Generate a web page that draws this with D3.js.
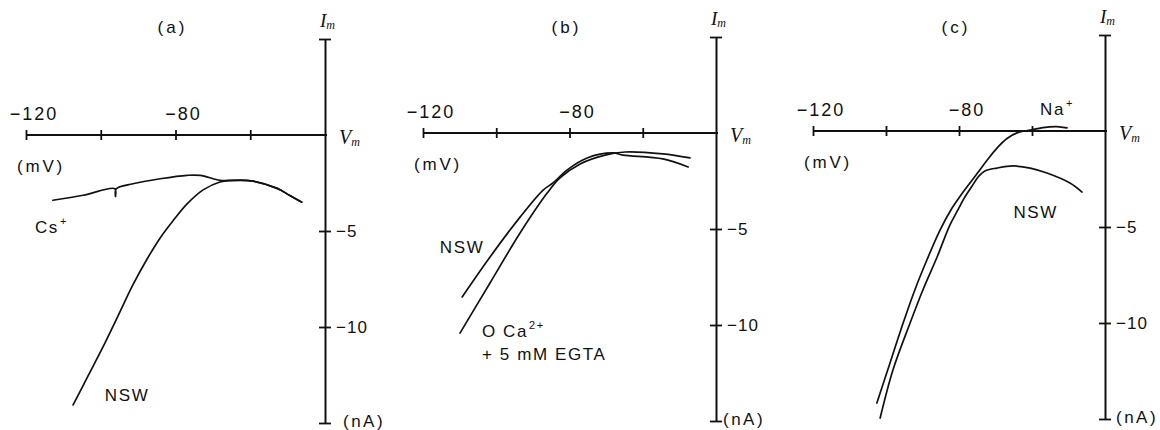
<!DOCTYPE html>
<html>
<head>
<meta charset="utf-8">
<script src="https://cdn.jsdelivr.net/npm/d3@7"></script>
<style>
  html, body { margin: 0; padding: 0; background: #fff; }
  svg text { font-family: "Liberation Sans", Arial, sans-serif; fill: #111; }
  .ital { font-family: "Liberation Serif", "DejaVu Serif", serif; font-style: italic; }
</style>
</head>
<body>
<svg id="fig" width="1160" height="430"></svg>
<script>
// Membrane current (Im, nA) against membrane potential (Vm, mV), three solution changes.

// Axis ticks and labels
const voltTicks = [-120, -100, -80, -60];
const voltLabels = [-120, -80];
const currTicks = [5, -5, -10, -15];
const currLabels = [-5, -10];
const voltDomain = [-120, -40];
const currDomain = [5, -15];

// (a) normal sea water vs Cs+ substitution  [Vm, Im]
const nswA = [[-107.4, -14.06], [-103.4, -12.55], [-99.4, -11.04], [-95.4, -9.43], [-91.4, -7.81],
  [-87.6, -6.46], [-84.1, -5.36], [-80.7, -4.48], [-76.9, -3.59], [-72.6, -2.86], [-68.1, -2.45],
  [-64.1, -2.36], [-59.3, -2.40], [-52.8, -2.78], [-49.4, -3.15], [-46.2, -3.50]];
const csA = [[-112.8, -3.40], [-104.7, -3.14], [-96.2, -2.80], [-96.05, -3.20], [-95.9, -2.81],
  [-91.4, -2.54], [-84.1, -2.28], [-76.9, -2.10], [-73.4, -2.10], [-68.1, -2.36], [-64.1, -2.36],
  [-59.3, -2.40], [-52.8, -2.78], [-49.4, -3.15], [-46.2, -3.50]];

// (b) normal sea water vs 0 Ca2+ + 5 mM EGTA
const nswB = [[-109.3, -8.54], [-101.7, -6.46], [-93.5, -4.38], [-87.2, -2.97], [-84.5, -2.60],
  [-80.7, -1.93], [-75.2, -1.30], [-68.1, -1.04], [-65.4, -1.15], [-54.5, -1.35], [-47.6, -1.77]];
const caB = [[-109.9, -10.42], [-101.7, -7.81], [-93.5, -5.21], [-86.1, -3.13], [-82.6, -2.34],
  [-77.1, -1.61], [-70.3, -1.15], [-64.8, -0.99], [-54.5, -1.09], [-47.1, -1.30]];

// (c) normal sea water vs Na+ solution
const nswC = [[-101.6, -14.95], [-98.1, -12.45], [-93.4, -10.0], [-89.9, -8.28], [-86.0, -6.56],
  [-82.5, -4.90], [-80.3, -4.11], [-78.4, -3.44], [-76.4, -2.86], [-74.5, -2.34], [-72.9, -2.08],
  [-69.6, -1.93], [-65.2, -1.82], [-60.5, -1.93], [-55.9, -2.19], [-49.6, -2.71], [-46.3, -3.18]];
const naC = [[-102.5, -14.17], [-98.9, -12.08], [-95.3, -10.0], [-92.1, -8.28], [-88.8, -6.72],
  [-85.2, -5.16], [-81.9, -4.01], [-79.45, -3.33], [-77.0, -2.71], [-74.5, -2.08], [-72.05, -1.46],
  [-69.6, -0.89], [-66.85, -0.39], [-64.1, -0.10], [-60.5, 0.05], [-57.0, 0.18], [-53.2, 0.23],
  [-50.4, 0.16]];

// Panel frames (pixels) and curve annotations (placed in data units)
const panels = [
  { tag: "(a)", left: 26, right: 325, top: 39, bottom: 423, nA: 18,
    curves: [nswA, csA],
    notes: [{ v: -117.6, i: -5.1, lines: [["Cs", "+"]] },
            { v: -98.9, i: -13.85, lines: [["NSW"]] }] },
  { tag: "(b)", left: 423, right: 716, top: 37, bottom: 421, nA: 7,
    curves: [nswB, caB],
    notes: [{ v: -115.4, i: -6.25, lines: [["NSW"]] },
            { v: -103.9, i: -10.63, lines: [["O Ca", "2+"], ["+ 5 mM EGTA"]] }] },
  { tag: "(c)", left: 813, right: 1105, top: 35, bottom: 419, nA: 11,
    curves: [nswC, naC],
    notes: [{ v: -57.8, i: 0.84, lines: [["Na", "+"]] },
            { v: -65.1, i: -4.53, lines: [["NSW"]] }] }
];

const svg = d3.select("#fig");
const ink = "#111";

panels.forEach(p => {
  const x = d3.scaleLinear().domain(voltDomain).range([p.left, p.right]);
  const y = d3.scaleLinear().domain(currDomain).range([p.top, p.bottom]);
  const g = svg.append("g");
  const y0 = y(0), xr = x(-40);

  // Voltage axis along Im = 0
  const xa = g.append("g").attr("transform", `translate(0,${y0})`)
    .call(d3.axisBottom(x).tickValues(voltTicks).tickFormat("").tickSizeOuter(0));
  xa.select(".domain").attr("stroke", ink).attr("stroke-width", 2).attr("d", `M${x(-120)},0H${xr + 2}`);
  xa.selectAll(".tick line").attr("stroke", ink).attr("stroke-width", 1.8).attr("y1", -5).attr("y2", 5);

  // Current axis at Vm = -40
  const ya = g.append("g").attr("transform", `translate(${xr},0)`)
    .call(d3.axisRight(y).tickValues(currTicks).tickFormat("").tickSizeOuter(0));
  ya.select(".domain").attr("stroke", ink).attr("stroke-width", 2);
  ya.selectAll(".tick line").attr("stroke", ink).attr("stroke-width", 1.8).attr("x1", -6).attr("x2", 6);

  // Tick labels
  g.selectAll(".vl").data(voltLabels).enter().append("text")
    .attr("x", d => x(d) + 8).attr("y", y0 - 15)
    .attr("text-anchor", "middle").attr("font-size", 18).attr("letter-spacing", 2)
    .text(d => "\u2212" + Math.abs(d));
  g.selectAll(".cl").data(currLabels).enter().append("text")
    .attr("x", xr + 11).attr("y", d => y(d) + 6)
    .attr("font-size", 17).attr("letter-spacing", 1)
    .text(d => "\u2212" + Math.abs(d));

  // Units and axis names
  g.append("text").attr("x", x(-120) - 9).attr("y", y0 + 37)
    .attr("font-size", 17).attr("letter-spacing", 2.8).text("(mV)");
  g.append("text").attr("x", xr + p.nA).attr("y", y(-15) + 4)
    .attr("font-size", 17).attr("letter-spacing", 2.5).text("(nA)");
  const im = g.append("text").attr("class", "ital").attr("x", xr - 5).attr("y", p.top - 12).attr("font-size", 19);
  im.append("tspan").text("I");
  im.append("tspan").attr("font-size", 12).attr("dy", 2).text("m");
  const vm = g.append("text").attr("class", "ital").attr("x", xr + 14).attr("y", y0 + 9).attr("font-size", 20);
  vm.append("tspan").text("V");
  vm.append("tspan").attr("font-size", 12).attr("dy", 2).text("m");

  // Panel tag
  g.append("text").attr("x", (p.left + p.right) / 2 - 3).attr("y", 33)
    .attr("text-anchor", "middle").attr("font-size", 17).attr("letter-spacing", 3).text(p.tag);

  // I–V curves
  const line = d3.line().x(d => x(d[0])).y(d => y(d[1])).curve(d3.curveCatmullRom.alpha(0.5));
  g.selectAll(".curve").data(p.curves).enter().append("path")
    .attr("d", line).attr("fill", "none").attr("stroke", ink)
    .attr("stroke-width", 1.7).attr("stroke-linejoin", "round").attr("stroke-linecap", "round");

  // Curve annotations
  p.notes.forEach(n => {
    n.lines.forEach((parts, k) => {
      const t = g.append("text").attr("x", x(n.v)).attr("y", y(n.i) + k * 23)
        .attr("font-size", 17).attr("letter-spacing", 1.6);
      t.append("tspan").text(parts[0]);
      if (parts[1]) t.append("tspan").attr("font-size", 11).attr("dy", -8).attr("dx", 1).text(parts[1]);
    });
  });
});
</script>
</body>
</html>
